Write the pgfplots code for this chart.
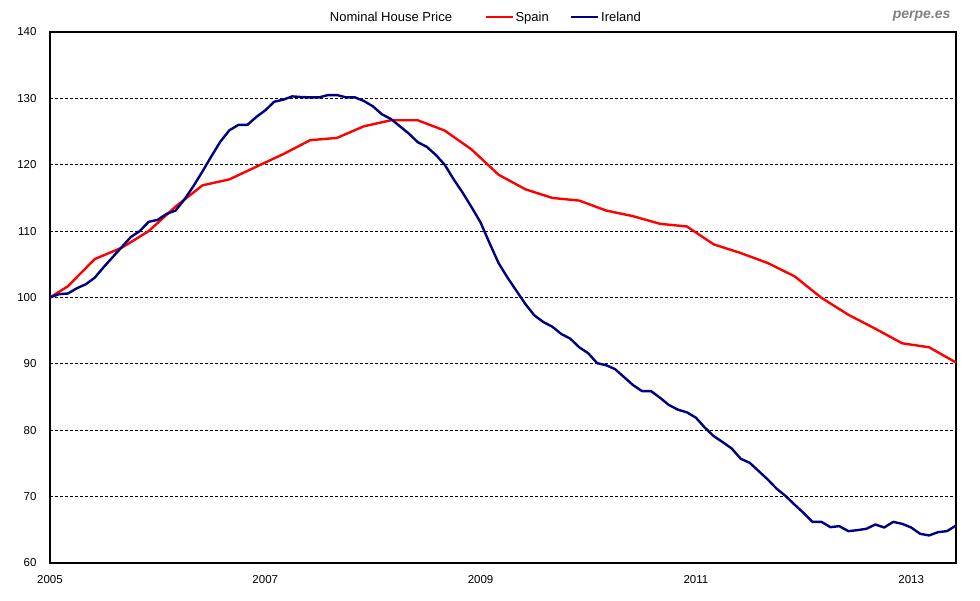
\documentclass[border=0pt]{standalone}
\usepackage{pgfplots}
\pgfplotsset{compat=1.18}
\usepackage{fontspec}
\setmainfont{Liberation Sans}
\definecolor{esred}{RGB}{255,0,0}
\definecolor{ieblue}{RGB}{0,0,128}
\definecolor{wm}{RGB}{128,128,128}
\pgfplotstableread{
m v
0 100
2 101.7
5 105.8
8 107.5
11 110.0
14 113.7
17 116.9
20 117.8
23 119.7
26 121.6
29 123.7
32 124.05
35 125.8
38 126.7
41 126.7
44 125.15
47 122.3
50 118.5
53 116.3
56 115.0
59 114.6
62 113.1
65 112.25
68 111.1
71 110.7
74 108.0
77 106.7
80 105.2
83 103.2
86 99.95
89 97.4
92 95.3
95 93.1
98 92.5
101 90.2
}\spain
\pgfplotstableread{
m v
0 100.0
1 100.5
2 100.6
3 101.4
4 102.0
5 103.0
6 104.6
7 106.1
8 107.6
9 109.1
10 110.0
11 111.4
12 111.7
13 112.6
14 113.1
15 114.8
16 116.8
17 119.0
18 121.3
19 123.5
20 125.2
21 126.0
22 126.0
23 127.2
24 128.2
25 129.5
26 129.8
27 130.3
28 130.2
29 130.15
30 130.15
31 130.5
32 130.5
33 130.15
34 130.15
35 129.6
36 128.8
37 127.6
38 126.9
39 125.8
40 124.7
41 123.4
42 122.7
43 121.5
44 120.0
45 117.8
46 115.8
47 113.6
48 111.3
49 108.2
50 105.2
51 103.0
52 101.0
53 99.0
54 97.3
55 96.3
56 95.6
57 94.5
58 93.8
59 92.5
60 91.6
61 90.1
62 89.8
63 89.2
64 88.0
65 86.8
66 85.9
67 85.9
68 84.9
69 83.8
70 83.1
71 82.7
72 81.9
73 80.4
74 79.1
75 78.2
76 77.25
77 75.7
78 75.1
79 73.85
80 72.6
81 71.2
82 70.1
83 68.8
84 67.55
85 66.2
86 66.2
87 65.4
88 65.55
89 64.8
90 64.95
91 65.15
92 65.8
93 65.35
94 66.2
95 65.9
96 65.35
97 64.4
98 64.15
99 64.65
100 64.8
101 65.65
}\ireland
\begin{document}
\begin{tikzpicture}
\path[use as bounding box] (0pt,0pt) rectangle (980pt,600pt);
\begin{axis}[
  at={(50pt,37pt)}, anchor=south west,
  width=906pt, height=531pt, scale only axis,
  xmin=0, xmax=101, ymin=60, ymax=140,
  xtick={0,24,48,72,96},
  xticklabels={2005,2007,2009,2011,2013},
  ytick={60,70,...,140},
  major tick length=0pt,
  ymajorgrids,
  grid style={black, dash pattern=on 3pt off 2pt, line width=0.8pt},
  axis line style={black, line width=1.6pt},
  tick label style={font=\fontsize{11.5}{13}\selectfont},
  /pgf/number format/assume math mode=true,
  xticklabel style={yshift=-9pt},
  yticklabel style={xshift=-10pt},
  legend style={at={(0.4795,1.028)}, anchor=west, draw=none, fill=none,
    inner sep=0pt, font=\fontsize{13}{15}\selectfont,
    nodes={inner sep=1.5pt},
    /tikz/every even column/.append style={column sep=20pt}},
  legend columns=2,
  legend image code/.code={\draw[#1] (0pt,0pt) -- (27pt,0pt);},
]
\addplot[esred, line width=2.4pt, line join=round] table[x=m,y=v] {\spain};
\addlegendentry{Spain}
\addplot[ieblue, line width=2.4pt, line join=round] table[x=m,y=v] {\ireland};
\addlegendentry{Ireland}
\end{axis}
\node[font=\fontsize{13}{15}\selectfont] at (391pt,583pt) {Nominal House Price};
\node[anchor=east, font=\fontsize{14}{16}\selectfont\bfseries\itshape, text=wm] at (954pt,584pt) {perpe.es};
\end{tikzpicture}
\end{document}
